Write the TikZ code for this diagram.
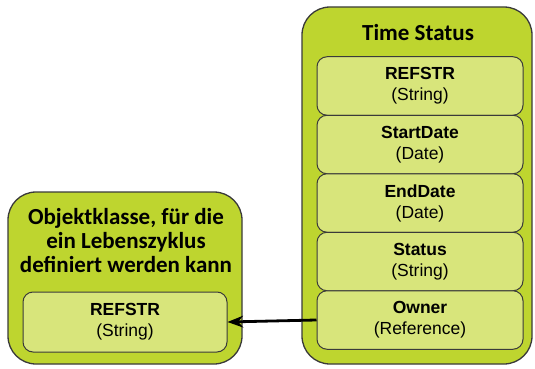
\documentclass[tikz,border=0pt]{standalone}
\usepackage{fontspec}
\setmainfont{Liberation Sans}
\newfontfamily\titlefont{Carlito}
\usetikzlibrary{arrows.meta}
\definecolor{limeOuter}{HTML}{BED52F}
\definecolor{limeInner}{HTML}{D8E57B}
\definecolor{rahmen}{HTML}{3A3A3A}

\begin{document}
\begin{tikzpicture}[x=1pt,y=-1pt,>=Stealth,
    outerbox/.style={draw=rahmen,line width=1.3pt,fill=limeOuter,rounded corners=28pt},
    field/.style={draw=rahmen,line width=1pt,fill=limeInner,rounded corners=10pt,
                  minimum width=206pt,minimum height=58.5pt,align=center,inner sep=0pt,
                  font=\fontsize{17.5}{21}\selectfont},
    boxtitle/.style={font=\titlefont\bfseries\fontsize{23}{24}\selectfont,align=center}]
  \useasboundingbox (0,0) rectangle (535,369);
  % Klasse TimeStatus
  \draw[outerbox] (302,7) rectangle (532,364);
  \node[boxtitle] (tstitle) at (418,33) {Time Status};
  \node[field] (refstr) at (420,86) {\textbf{REFSTR}\\(String)};
  \node[field] (start) at (420,144.5) {\textbf{StartDate}\\(Date)};
  \node[field] (end) at (420,203) {\textbf{EndDate}\\(Date)};
  \node[field] (status) at (420,261.5) {\textbf{Status}\\(String)};
  \node[field] (owner) at (420,320) {\textbf{Owner}\\(Reference)};
  % Objektklasse
  \draw[outerbox] (8,192) rectangle (242,364);
  \node[boxtitle] (objtitle) at (126,241)
    {Objektklasse, für die\\ein Lebenszyklus\\definiert werden kann};
  \node[field,minimum width=204pt,minimum height=60pt] (objref) at (125,322)
    {\textbf{REFSTR}\\(String)};
  % Referenz
  \draw[->,line width=2.8pt] (owner.west) -- (objref.east);
\end{tikzpicture}
\end{document}
